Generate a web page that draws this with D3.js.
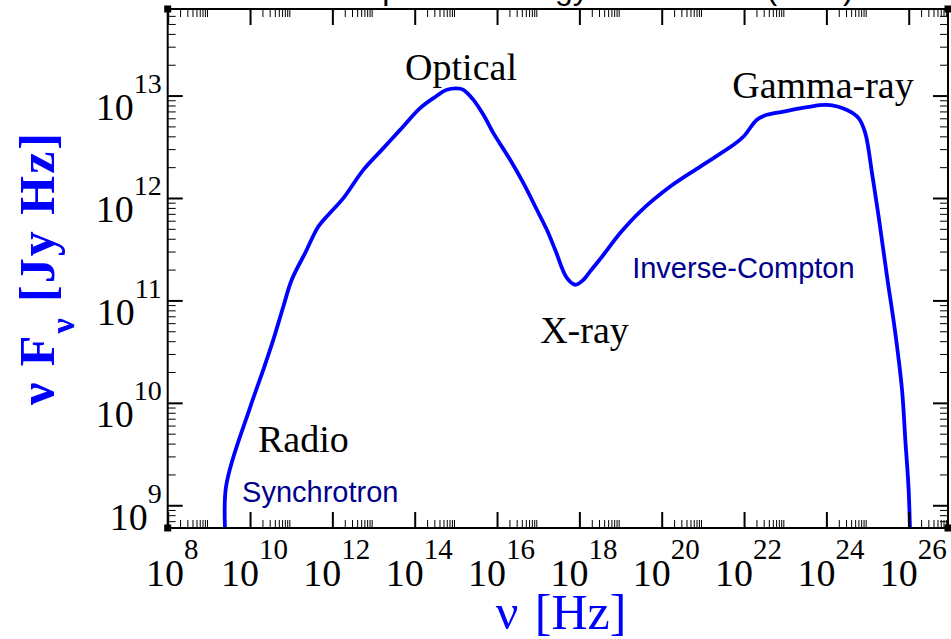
<!DOCTYPE html>
<html>
<head>
<meta charset="utf-8">
<script src="https://cdn.jsdelivr.net/npm/d3@7"></script>
<style>
  body { margin: 0; background: #fff; }
</style>
</head>
<body>
<script>
// SED curve: log10(nu / Hz) and log10(nuFnu / Jy Hz)
var logNu = [9.417, 9.417, 10.0, 10.323, 10.566, 10.809, 11.013, 11.337, 11.660, 11.903,
  12.267, 12.753, 13.239, 13.645, 14.131, 14.454, 14.780, 15.023, 15.183, 15.426,
  15.669, 15.912, 16.318, 16.641, 16.967, 17.210, 17.412, 17.696, 17.898, 18.100,
  18.262, 18.586, 18.991, 19.477, 20.206, 20.936, 21.745, 21.988, 22.313, 22.556,
  22.960, 23.529, 24.014, 24.500, 24.782, 24.945, 25.108, 25.269, 25.473, 25.674,
  25.837, 25.917, 25.998, 26.04]
var logNuFnu = [8.6, 9.182, 9.953, 10.324, 10.617, 10.941, 11.202, 11.462, 11.722, 11.836,
  11.999, 12.275, 12.487, 12.665, 12.877, 12.975, 13.056, 13.070, 13.056, 12.958,
  12.812, 12.633, 12.373, 12.145, 11.885, 11.690, 11.495, 11.219, 11.153, 11.202,
  11.283, 11.446, 11.658, 11.868, 12.112, 12.307, 12.519, 12.600, 12.763, 12.812,
  12.844, 12.887, 12.909, 12.860, 12.780, 12.633, 12.243, 11.820, 11.234, 10.682,
  10.129, 9.641, 9.153, 8.6]

var xExponents = [8, 10, 12, 14, 16, 18, 20, 22, 24, 26]
var yExponents = [9, 10, 11, 12, 13]

// band names, placed in data coordinates (log nu, log nuFnu)
var bandNames = ['Optical', 'Gamma-ray', 'X-ray', 'Radio']
var bandNu = [13.767, 21.713, 17.047, 10.194]
var bandF = [13.153, 12.978, 10.587, 9.524]

var processNames = ['Synchrotron', 'Inverse-Compton']
var processNu = [9.806, 19.283]
var processF = [9.036, 11.222]

var titleText = 'Spectral Energy Distribution (SED)'

var W = 951, H = 639
var pLeft = 167.7, pRight = 948, pTop = 9, pBottom = 528

var svg = d3.select('body').append('svg')
    .attr('width', W)
    .attr('height', H)

var x = d3.scaleLog().domain([1e8, 9e26]).range([pLeft, pRight])
var y = d3.scaleLog().domain([6e8, 7e13]).range([pBottom, pTop])

var xMajor = xExponents.map(e => Math.pow(10, e))
var yMajor = yExponents.map(e => Math.pow(10, e))
var xMinor = [], yMinor = []
xExponents.forEach(function(e) {
  for (var k = 2; k <= 9; k++) {
    var v = k * Math.pow(10, e)
    if (v < x.domain()[1]) xMinor.push(v)
  }
})
for (var e = 8; e <= 13; e++) {
  for (var k = 2; k <= 9; k++) {
    var v = k * Math.pow(10, e)
    if (v > y.domain()[0] && v < y.domain()[1]) yMinor.push(v)
  }
}

function expOf(d) { return Math.round(Math.log10(d)) }

// title, cut off by the top of the picture: only descenders show
svg.append('text')
    .attr('x', 361)
    .attr('y', -1)
    .attr('font-family', 'Liberation Sans, Arial, sans-serif')
    .attr('font-size', 32)
    .text(titleText)

svg.append('rect')
    .attr('x', pLeft).attr('y', pTop)
    .attr('width', pRight - pLeft).attr('height', pBottom - pTop)
    .attr('fill', '#fff')

// curve
svg.append('clipPath').attr('id', 'plot')
  .append('rect')
    .attr('x', pLeft).attr('y', pTop)
    .attr('width', pRight - pLeft).attr('height', pBottom - pTop)

var pts = logNu.map((n, i) => [Math.pow(10, n), Math.pow(10, logNuFnu[i])])
var line = d3.line()
    .x(d => x(d[0]))
    .y(d => y(d[1]))
    .curve(d3.curveCatmullRom.alpha(0.5))

svg.append('path')
    .datum(pts)
    .attr('clip-path', 'url(#plot)')
    .attr('d', line)
    .attr('fill', 'none')
    .attr('stroke', '#0000ff')
    .attr('stroke-width', 3.8)
    .attr('stroke-linejoin', 'round')

// axes, ticks pointing inwards on all four sides
function styleAxis(g, w) {
  g.select('.domain').remove()
  g.selectAll('.tick line').attr('stroke', '#000').attr('stroke-width', w)
}

var gx = svg.append('g').attr('transform', 'translate(0,' + pBottom + ')')
    .call(d3.axisBottom(x).tickValues(xMajor).tickSize(-16))
    .call(g => styleAxis(g, 2))
gx.selectAll('.tick text').each(function(d) {
  var t = d3.select(this).text(null)
    .attr('x', 4).attr('y', 58).attr('dy', 0)
    .attr('fill', '#000')
    .attr('font-family', 'Liberation Serif, Times New Roman, serif')
    .attr('font-size', 38)
  t.append('tspan').text('10')
  t.append('tspan').attr('dy', -27).attr('font-size', 29).text(expOf(d))
})
svg.append('g').attr('transform', 'translate(0,' + pBottom + ')')
    .call(d3.axisBottom(x).tickValues(xMinor).tickSize(-8).tickFormat(''))
    .call(g => styleAxis(g, 1))

svg.append('g').attr('transform', 'translate(0,' + pTop + ')')
    .call(d3.axisTop(x).tickValues(xMajor).tickSize(-16).tickFormat(''))
    .call(g => styleAxis(g, 2))
svg.append('g').attr('transform', 'translate(0,' + pTop + ')')
    .call(d3.axisTop(x).tickValues(xMinor).tickSize(-8).tickFormat(''))
    .call(g => styleAxis(g, 1))

var gy = svg.append('g').attr('transform', 'translate(' + pLeft + ',0)')
    .call(d3.axisLeft(y).tickValues(yMajor).tickSize(-15))
    .call(g => styleAxis(g, 2))
gy.selectAll('.tick text').each(function(d) {
  var t = d3.select(this).text(null)
    .attr('x', -6).attr('y', 24).attr('dy', 0)
    .attr('fill', '#000')
    .attr('text-anchor', 'end')
    .attr('font-family', 'Liberation Serif, Times New Roman, serif')
    .attr('font-size', 38)
  t.append('tspan').text('10')
  t.append('tspan').attr('dy', -27).attr('font-size', 28).text(expOf(d))
})
svg.append('g').attr('transform', 'translate(' + pLeft + ',0)')
    .call(d3.axisLeft(y).tickValues(yMinor).tickSize(-8).tickFormat(''))
    .call(g => styleAxis(g, 1))

svg.append('g').attr('transform', 'translate(' + pRight + ',0)')
    .call(d3.axisRight(y).tickValues(yMajor).tickSize(-15).tickFormat(''))
    .call(g => styleAxis(g, 2))
svg.append('g').attr('transform', 'translate(' + pRight + ',0)')
    .call(d3.axisRight(y).tickValues(yMinor).tickSize(-8).tickFormat(''))
    .call(g => styleAxis(g, 1))

// frame
svg.append('rect')
    .attr('x', pLeft).attr('y', pTop)
    .attr('width', pRight - pLeft).attr('height', pBottom - pTop)
    .attr('fill', 'none')
    .attr('stroke', '#000')
    .attr('stroke-width', 2)

// little corner handles
var corners = [[pLeft, pTop], [pRight, pTop], [pLeft, pBottom], [pRight, pBottom]]
svg.selectAll('rect.corner')
  .data(corners)
  .enter().append('rect')
    .attr('class', 'corner')
    .attr('x', d => d[0] - 3.5).attr('y', d => d[1] - 3.5)
    .attr('width', 7).attr('height', 7)
    .attr('fill', '#000')

// band labels
svg.selectAll('text.band')
  .data(bandNames)
  .enter().append('text')
    .attr('class', 'band')
    .attr('x', (d, i) => x(Math.pow(10, bandNu[i])))
    .attr('y', (d, i) => y(Math.pow(10, bandF[i])))
    .attr('font-family', 'Liberation Serif, Times New Roman, serif')
    .attr('font-size', 38)
    .attr('fill', '#000')
    .text(d => d)

svg.selectAll('text.process')
  .data(processNames)
  .enter().append('text')
    .attr('class', 'process')
    .attr('x', (d, i) => x(Math.pow(10, processNu[i])))
    .attr('y', (d, i) => y(Math.pow(10, processF[i])))
    .attr('font-family', 'Liberation Sans, Arial, sans-serif')
    .attr('font-size', 29)
    .attr('fill', '#00008b')
    .text(d => d)

// axis titles
svg.append('text')
    .attr('x', 561)
    .attr('y', 629)
    .attr('text-anchor', 'middle')
    .attr('font-family', 'Liberation Serif, Times New Roman, serif')
    .attr('font-size', 50)
    .attr('word-spacing', 4)
    .attr('fill', '#0000ff')
    .text('\u03bd [Hz]')

var yt = svg.append('text')
    .attr('transform', 'translate(54,268) rotate(-90)')
    .attr('text-anchor', 'middle')
    .attr('font-family', 'Liberation Serif, Times New Roman, serif')
    .attr('font-weight', 'bold')
    .attr('font-size', 50)
    .attr('letter-spacing', 2)
    .attr('fill', '#0000ff')
yt.append('tspan').text('\u03bd F')
yt.append('tspan').attr('font-size', 34).attr('dy', 20).text('\u03bd')
yt.append('tspan').attr('dy', -20).text(' [Jy Hz]')
</script>
</body>
</html>
